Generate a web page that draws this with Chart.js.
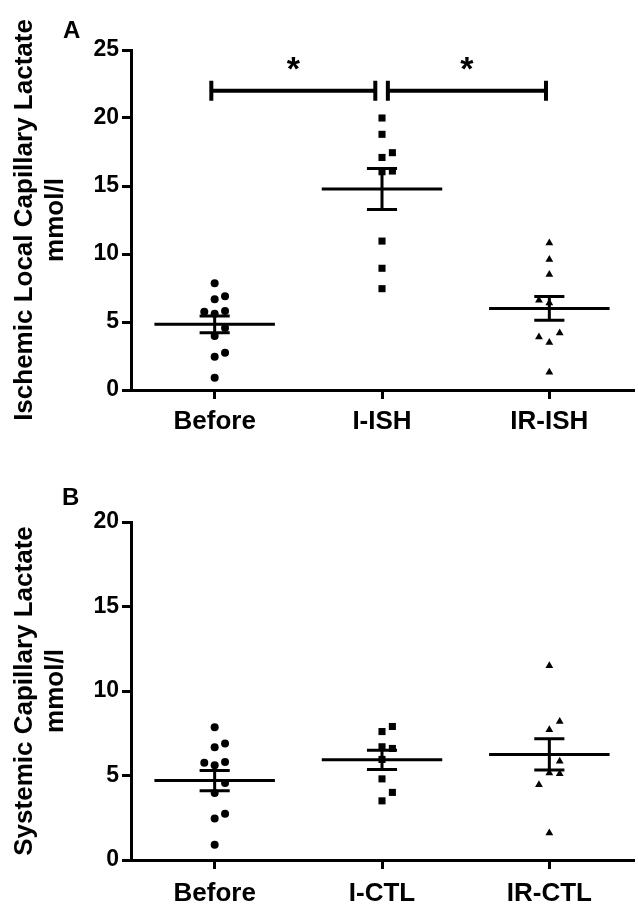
<!DOCTYPE html>
<html><head><meta charset="utf-8">
<script src="https://cdn.jsdelivr.net/npm/chart.js@4.4.1/dist/chart.umd.min.js"></script>
<style>
html,body{margin:0;padding:0;background:#fff;}
#wrap{position:relative;width:638px;height:924px;background:#fff;}
.pn{position:absolute;left:0;width:638px;height:462px;}
</style></head><body>
<div id="wrap">
<div class="pn" style="top:0"><canvas id="cA" width="638" height="462"></canvas></div>
<div class="pn" style="top:462px"><canvas id="cB" width="638" height="462"></canvas></div>
</div>
<script>
// ---------- data ----------
const categoriesA = ['Before', 'I-ISH', 'IR-ISH'];
const categoriesB = ['Before', 'I-CTL', 'IR-CTL'];
const beforeValues = [7.85, 6.67, 6.9, 5.6, 5.8, 5.75, 3.97, 4.56, 2.45, 2.74, 0.9];
const iIshValues   = [20.0, 18.8, 17.1, 17.45, 16.05, 16.1, 10.95, 8.95, 7.45];
const irIshValues  = [10.8, 9.6, 8.5, 6.4, 6.6, 3.5, 3.9, 4.2, 1.3];
const iCtlValues   = [7.6, 7.9, 6.7, 6.6, 5.95, 4.8, 3.5, 4.0];
const irCtlValues  = [11.5, 7.7, 8.2, 5.15, 5.84, 5.1, 4.45, 1.6];
const meansA = [4.83, 14.78, 6.0];
const semsA  = [0.62, 1.5, 0.87];
const meansB = [4.7, 5.93, 6.25];
const semsB  = [0.6, 0.57, 0.92];
const yMaxA = 25, yMaxB = 20, yStep = 5;
const sigPairsA = [[0, 1], [1, 2]];
const sigLevelA = 22;
const sigLabel = '*';
const titleA = ['Ischemic Local Capillary Lactate', 'mmol/l'];
const titleB = ['Systemic Capillary Lactate', 'mmol/l'];

// ---------- drawing ----------
const FAM = '"Liberation Sans", Arial, Helvetica, sans-serif';
Chart.defaults.color = '#000';
Chart.defaults.font.family = FAM;

function placePoints(values, center, thr, step, slots) {
  const placed = [];
  return values.map(v => {
    for (const s of slots) {
      if (!placed.some(p => p.s === s && Math.abs(p.v - v) < thr)) {
        placed.push({v, s});
        return {x: center + s * step, y: v};
      }
    }
    return {x: center, y: v};
  });
}

function buildPanel(id, o) {
  const plotH = o.bottom - o.top;
  const thr = o.thrPx * o.yMax / plotH;
  const step = 0.062;
  const datasets = [];
  o.groups.forEach((g, i) => {
    datasets.push({
      type: 'scatter',
      data: placePoints(g.values, i, thr, step, g.slots),
      pointStyle: g.style, pointRadius: g.r, pointHoverRadius: g.r,
      backgroundColor: '#000', borderColor: '#000', borderWidth: 0, order: 2
    });
  });
  const meanPts = [], errPts = [];
  const mw = 0.36, cw = 0.09;
  o.means.forEach((m, i) => {
    const s = o.sems[i];
    meanPts.push({x: i - mw, y: m}, {x: i + mw, y: m}, {x: i + mw, y: null});
    errPts.push({x: i, y: m - s}, {x: i, y: m + s}, {x: i, y: null});
    errPts.push({x: i - cw, y: m + s}, {x: i + cw, y: m + s}, {x: i + cw, y: null});
    errPts.push({x: i - cw, y: m - s}, {x: i + cw, y: m - s}, {x: i + cw, y: null});
  });
  const lineDs = (data, w) => ({type: 'line', data, borderColor: '#000', borderWidth: w,
    pointRadius: 0, pointHoverRadius: 0, fill: false, spanGaps: false, tension: 0,
    borderCapStyle: 'butt', order: 1});
  datasets.push(lineDs(meanPts, 3));
  datasets.push(lineDs(errPts, 3));
  const sigMarks = [];
  if (o.sig) {
    const counts = {};
    o.sig.pairs.forEach(([a, b]) => { counts[a] = (counts[a] || 0) + 1; counts[b] = (counts[b] || 0) + 1; });
    const bp = [];
    const L = o.sig.level, h = 10 * o.yMax / plotH;
    o.sig.pairs.forEach(([a, b]) => {
      const x1 = counts[a] > 1 ? a + 0.035 : a - 0.02;
      const x2 = counts[b] > 1 ? b - 0.04 : b - 0.02;
      bp.push({x: x1, y: L}, {x: x2, y: L}, {x: x2, y: null});
      bp.push({x: x1, y: L - h}, {x: x1, y: L + h}, {x: x1, y: null});
      bp.push({x: x2, y: L - h}, {x: x2, y: L + h}, {x: x2, y: null});
      sigMarks.push({x: (x1 + x2) / 2, y: L});
    });
    datasets.push(lineDs(bp, 4));
  }
  const annot = {
    id: 'annot',
    afterDraw(chart) {
      const ctx = chart.ctx, xs = chart.scales.x, ys = chart.scales.y;
      ctx.save();
      ctx.fillStyle = '#000';
      ctx.textAlign = 'center';
      ctx.textBaseline = 'alphabetic';
      ctx.font = 'bold 34px ' + FAM;
      sigMarks.forEach(p => {
        ctx.fillText(o.sig.label, xs.getPixelForValue(p.x), ys.getPixelForValue(p.y) - 11);
      });
      ctx.textAlign = 'left';
      ctx.font = 'bold 24px ' + FAM;
      ctx.fillText(o.letter, o.letterX, o.letterY);
      ctx.restore();
    }
  };
  const tickFont = {family: FAM, size: 23, weight: 'bold'};
  const gridOpt = {display: true, drawOnChartArea: false, drawTicks: true, tickLength: 9, color: '#000', lineWidth: 3};
  return new Chart(document.getElementById(id), {
    data: {datasets},
    options: {
      responsive: false, animation: false, devicePixelRatio: 1,
      layout: {padding: {top: o.top, left: 0, right: 0, bottom: 0}},
      plugins: {legend: {display: false}, tooltip: {enabled: false}},
      scales: {
        x: {
          type: 'linear', min: -0.5, max: 2.5,
          afterBuildTicks: s => { s.ticks = o.categories.map((c, i) => ({value: i})); },
          afterFit: s => { s.height = o.canvasH - o.bottom; },
          ticks: {autoSkip: false, maxRotation: 0, padding: o.labelPad,
            font: {family: FAM, size: 26, weight: 'bold'}, color: '#000',
            callback: v => o.categories[v]},
          grid: gridOpt,
          border: {display: true, color: '#000', width: 3}
        },
        y: {
          type: 'linear', min: 0, max: o.yMax,
          afterFit: s => { s.width = 131; },
          ticks: {stepSize: yStep, padding: 3, font: tickFont, color: '#000'},
          grid: gridOpt,
          border: {display: true, color: '#000', width: 3},
          title: {display: true, text: o.title, color: '#000',
            font: {family: FAM, size: 26, weight: 'bold', lineHeight: 1.2},
            padding: {top: 9, bottom: 0}}
        }
      }
    },
    plugins: [annot]
  });
}

buildPanel('cA', {
  categories: categoriesA, yMax: yMaxA, top: 50, bottom: 390, canvasH: 462, labelPad: 7, thrPx: 11,
  groups: [
    {values: beforeValues, style: 'circle', r: 4, slots: [0, 1, -1]},
    {values: iIshValues, style: 'rect', r: 5, slots: [0, 1, -1]},
    {values: irIshValues, style: 'triangle', r: 4.5, slots: [0, -1, 1]}
  ],
  means: meansA, sems: semsA, title: titleA,
  sig: {pairs: sigPairsA, level: sigLevelA, label: sigLabel},
  letter: 'A', letterX: 63, letterY: 38
});
buildPanel('cB', {
  categories: categoriesB, yMax: yMaxB, top: 60, bottom: 398, canvasH: 462, labelPad: 9, thrPx: 12,
  groups: [
    {values: beforeValues, style: 'circle', r: 4, slots: [0, 1, -1]},
    {values: iCtlValues, style: 'rect', r: 5, slots: [0, 1, -1]},
    {values: irCtlValues, style: 'triangle', r: 4.5, slots: [0, 1, -1]}
  ],
  means: meansB, sems: semsB, title: titleB,
  sig: null,
  letter: 'B', letterX: 62, letterY: 43
});
</script>
</body></html>
